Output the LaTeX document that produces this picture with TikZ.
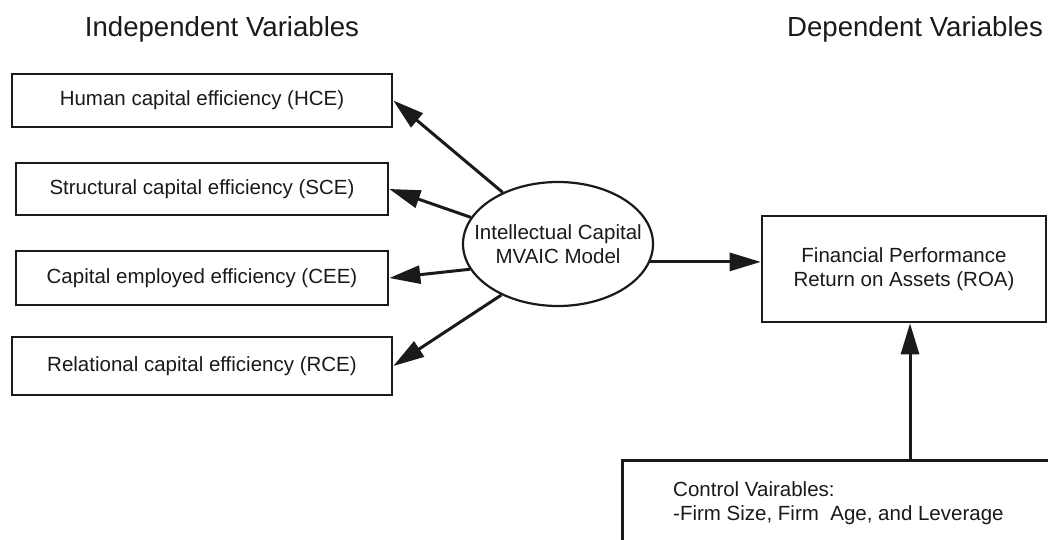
\documentclass[tikz,border=0pt]{standalone}
\usepackage{fontspec}
\setmainfont{Liberation Sans}
\usetikzlibrary{arrows.meta,shapes.geometric}
\definecolor{ink}{HTML}{1A1A1A}
\begin{document}
\begin{tikzpicture}[x=1pt,y=-1pt,
  box/.style={draw=ink, line width=2.6pt, rectangle, inner sep=0pt,
    font=\fontsize{20.5}{24}\selectfont, text=ink, align=center},
  txt/.style={font=\fontsize{20.5}{24}\selectfont, text=ink, inner sep=0pt},
  arr/.style={draw=ink, line width=3pt, -{Triangle[length=31pt,width=18pt]}},
  heading/.style={font=\fontsize{27.6}{32}\selectfont, anchor=base, text=ink, inner sep=0pt}]
\clip (0,0) rectangle (1048,540);
\fill[white] (0,0) rectangle (1048,540);

% column headings
\node[heading] (indep) at (222,37) {Independent Variables};
\node[heading] (dep) at (915,37) {Dependent Variables};

% efficiency components
\node[box, minimum width=380pt, minimum height=53pt] (hce) at (202,100.5) {Human capital efficiency (HCE)};
\node[box, minimum width=372pt, minimum height=52pt] (sce) at (202,189) {Structural capital efficiency (SCE)};
\node[box, minimum width=372pt, minimum height=54pt] (cee) at (202,278) {Capital employed efficiency (CEE)};
\node[box, minimum width=380pt, minimum height=58pt] (rce) at (202,366) {Relational capital efficiency (RCE)};

% central construct
\node[draw=ink, ellipse, line width=2.2pt, minimum width=190pt, minimum height=124pt, inner sep=0pt] (ic) at (558,244) {};
\node[txt, align=center] (ictext) at (ic.center) {Intellectual Capital\\MVAIC Model};

% outcome
\node[box, minimum width=284pt, minimum height=106pt] (roa) at (904,269) {Financial Performance\\Return on Assets (ROA)};

% controls
\node[draw=ink, line width=2.6pt, rectangle, minimum width=520pt, minimum height=180pt, anchor=north west, inner sep=0pt] (ctrl) at (621,459) {};
\node[txt, anchor=base west] (ctrl1) at (673,496) {Control Vairables:};
\node[txt, anchor=base west] (ctrl2) at (673,520) {-Firm Size, Firm\ \ Age, and Leverage};

% connectors
\draw[arr] (ic.137) -- (hce.east);
\draw[arr] (ic.163.5) -- (sce.east);
\draw[arr] (ic.196) -- (cee.east);
\draw[arr] (ic.222) -- (rce.east);
\draw[arr] (ic.-11) -- (ic.-11 -| roa.west);
\coordinate (cup) at (910,459);
\draw[arr] (cup) -- (cup |- roa.south);
\end{tikzpicture}
\end{document}
